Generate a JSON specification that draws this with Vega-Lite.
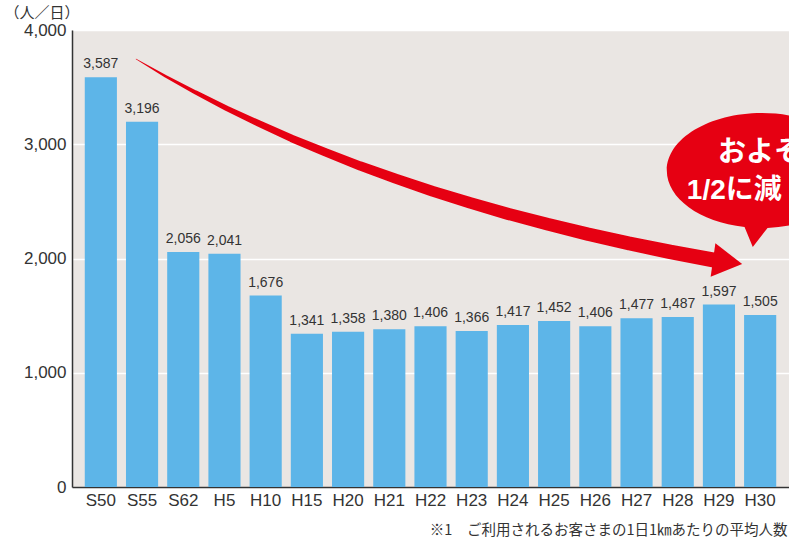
{
  "$schema": "https://vega.github.io/schema/vega-lite/v6.json",
  "width": 717,
  "height": 457,
  "autosize": {"type": "none"},
  "padding": {"left": 72, "top": 30, "right": 0, "bottom": 53},
  "background": "#ffffff",
  "config": {
    "view": {"stroke": null, "fill": "#eae6e3"},
    "axis": {"labelFont": "Liberation Sans", "labelColor": "#333333", "titleColor": "#333333"}
  },
  "datasets": {
    "bars": [
      {"period": "S50", "value": 3587},
      {"period": "S55", "value": 3196},
      {"period": "S62", "value": 2056},
      {"period": "H5", "value": 2041},
      {"period": "H10", "value": 1676},
      {"period": "H15", "value": 1341},
      {"period": "H20", "value": 1358},
      {"period": "H21", "value": 1380},
      {"period": "H22", "value": 1406},
      {"period": "H23", "value": 1366},
      {"period": "H24", "value": 1417},
      {"period": "H25", "value": 1452},
      {"period": "H26", "value": 1406},
      {"period": "H27", "value": 1477},
      {"period": "H28", "value": 1487},
      {"period": "H29", "value": 1597},
      {"period": "H30", "value": 1505}
    ],
    "arrow": [
      {"ax": 0.853, "ay": 3746},
      {"ax": 1.564, "ay": 3597},
      {"ax": 2.299, "ay": 3453},
      {"ax": 3.054, "ay": 3314},
      {"ax": 3.835, "ay": 3181},
      {"ax": 4.631, "ay": 3051},
      {"ax": 5.456, "ay": 2929},
      {"ax": 6.291, "ay": 2810},
      {"ax": 7.160, "ay": 2698},
      {"ax": 8.041, "ay": 2590},
      {"ax": 8.955, "ay": 2488},
      {"ax": 9.880, "ay": 2391},
      {"ax": 10.836, "ay": 2301},
      {"ax": 11.804, "ay": 2214},
      {"ax": 12.802, "ay": 2133},
      {"ax": 13.816, "ay": 2058},
      {"ax": 14.854, "ay": 1987}
    ],
    "head": [{"ax": 15.21, "ay": 1969}],
    "bubble": [{"ax": 16.04, "ay": 2770}],
    "bubbletext": [
      {"ax": 14.98, "ay": 2853, "label": "およそ"},
      {"ax": 14.22, "ay": 2521, "label": "1/2に減"}
    ]
  },
  "layer": [
    {
      "data": {"name": "bars"},
      "encoding": {
        "x": {
          "field": "period", "type": "nominal", "sort": null,
          "scale": {"paddingInner": 0.22, "paddingOuter": 0.31},
          "axis": {
            "title": "※1　ご利用されるお客さまの1日1㎞あたりの平均人数",
            "titleFont": "Noto Sans CJK JP", "titleFontSize": 14.5, "titleFontWeight": "normal",
            "titleX": 715, "titleY": 47, "titleAlign": "right", "titleBaseline": "alphabetic",
            "labelAngle": 0, "labelFontSize": 17, "labelPadding": 5, "ticks": false,
            "domainColor": "#333333", "domainWidth": 1.5
          }
        },
        "y": {
          "field": "value", "type": "quantitative",
          "scale": {"domain": [0, 4000]},
          "axis": {
            "title": "（人／日）",
            "titleFont": "Noto Sans CJK JP", "titleFontSize": 15, "titleFontWeight": "normal",
            "titleAngle": 0, "titleX": -68, "titleY": -13, "titleAlign": "left", "titleBaseline": "alphabetic",
            "values": [0, 1000, 2000, 3000, 4000], "format": ",.0f",
            "labelFontSize": 17, "labelPadding": 6, "ticks": false,
            "domainColor": "#333333", "domainWidth": 1.5,
            "gridColor": "#ffffff", "gridWidth": 1.5, "gridOpacity": 1
          }
        }
      },
      "layer": [
        {"mark": {"type": "bar", "color": "#5db5e8"}},
        {
          "mark": {"type": "text", "dy": -6, "baseline": "bottom", "font": "Liberation Sans", "fontSize": 14, "color": "#333333"},
          "encoding": {
            "text": {"field": "value", "type": "quantitative", "format": ","}
          }
        }
      ]
    },
    {
      "layer": [
        {
          "data": {"name": "arrow"},
          "mark": {"type": "trail", "color": "#e60012"},
          "encoding": {
            "x": {"field": "ax", "type": "quantitative", "scale": {"domain": [-0.7, 16.7], "nice": false, "zero": false}, "axis": null},
            "y": {"field": "ay", "type": "quantitative", "scale": {"domain": [0, 4000]}, "axis": null},
            "size": {"field": "ax", "type": "quantitative", "scale": {"type": "pow", "exponent": 0.3, "domain": [0.853, 14.854], "range": [0.5, 15], "zero": false}, "legend": null}
          }
        },
        {
          "data": {"name": "head"},
          "mark": {"type": "point", "shape": "triangle-right", "size": 1156, "angle": 8, "filled": true, "color": "#e60012", "opacity": 1},
          "encoding": {
            "x": {"field": "ax", "type": "quantitative"},
            "y": {"field": "ay", "type": "quantitative"}
          }
        },
        {
          "data": {"name": "bubble"},
          "mark": {"type": "point", "shape": "M-1.652,0 A1.652,1 0 0,1 1.652,0 A1.652,1 0 0,1 0.1,0.998 L-0.157,1.33 L-0.3,0.983 A1.652,1 0 0,1 -1.652,0 Z", "size": 13225, "filled": true, "color": "#e60012", "opacity": 1, "strokeWidth": 0},
          "encoding": {
            "x": {"field": "ax", "type": "quantitative"},
            "y": {"field": "ay", "type": "quantitative"}
          }
        },
        {
          "data": {"name": "bubbletext"},
          "mark": {"type": "text", "align": "left", "baseline": "alphabetic", "font": "Liberation Sans, Noto Sans CJK JP", "fontWeight": "bold", "fontSize": 28, "color": "#ffffff"},
          "encoding": {
            "x": {"field": "ax", "type": "quantitative"},
            "y": {"field": "ay", "type": "quantitative"},
            "text": {"field": "label"}
          }
        }
      ]
    }
  ],
  "resolve": {"scale": {"x": "independent", "y": "independent"}}
}
